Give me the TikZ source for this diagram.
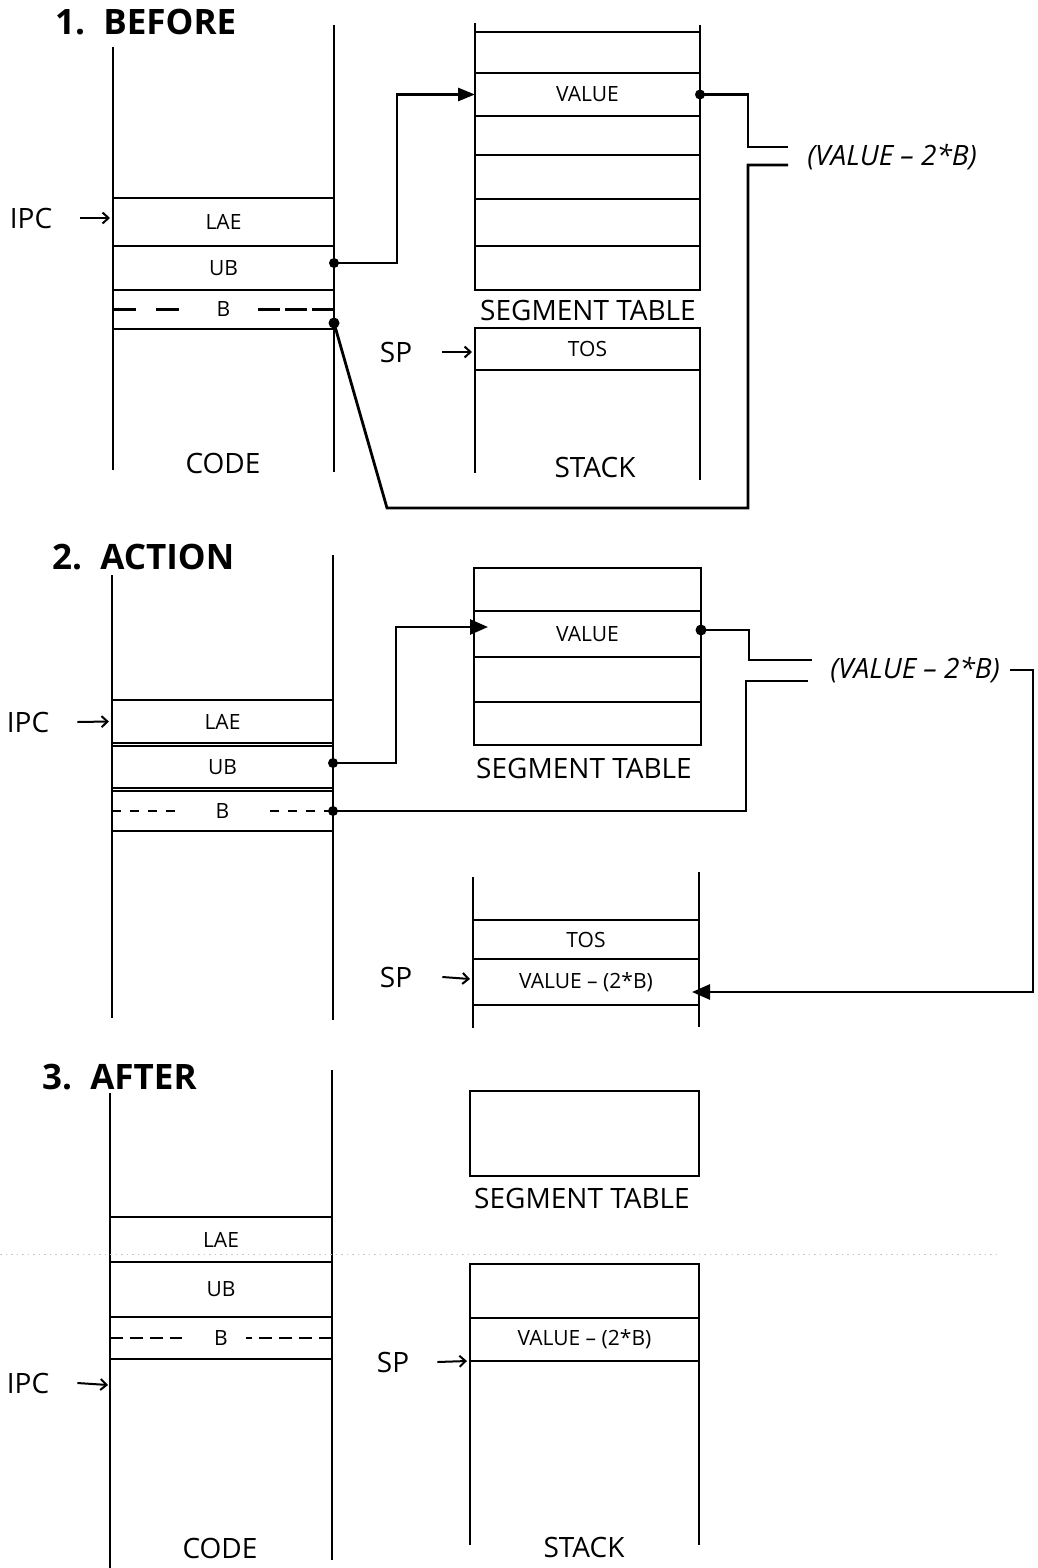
\documentclass[tikz,border=0pt]{standalone}
\usepackage{fontspec}
\setmainfont{Open Sans}
\usetikzlibrary{arrows.meta,calc}
\begin{document}
\begin{tikzpicture}[x=1pt,y=-1pt,
  col/.style={line width=2.3pt},
  cell/.style={draw, line width=2.8pt, rectangle, inner sep=0pt, outer sep=0pt,
    anchor=north west, font=\fontsize{21}{23}\selectfont},
  lbl/.style={inner sep=0pt, font=\fontsize{28}{30}\selectfont},
  exprlbl/.style={inner sep=0pt, font=\fontsize{28}{30}\selectfont\itshape},
  ttl/.style={inner sep=0pt, anchor=west, font=\fontsize{35}{38}\selectfont\bfseries},
  ptr/.style={line width=2pt, -{Straight Barb[length=6pt,width=11pt]}},
  conn/.style={line width=2.8pt},
  tipA/.style={-{Triangle[length=17pt,width=13pt]}},
  tipB/.style={-{Triangle[length=18pt,width=15pt]}},
  dashA/.style={line width=2.8pt, dash pattern=on 23pt off 20pt},
  dashA2/.style={line width=2.8pt, dash pattern=on 22pt off 5pt},
  dashB/.style={line width=2.8pt, dash pattern=on 9pt off 9pt},
  dashC/.style={line width=2.8pt, dash pattern=on 13pt off 7pt},
  scan/.style={gray!45, line width=0.7pt, dash pattern=on 1.5pt off 4pt}
]
\useasboundingbox (0,0) rectangle (1037,1568);

%================ 1. BEFORE ================
\node[ttl] (title1) at (55,22) {1.\ \ BEFORE};
% code column
\draw[col] (113,47) -- (113,470);
\draw[col] (334,25) -- (334,472);
\node[cell, minimum width=221pt, minimum height=48pt] (lae1) at (113,198) {LAE};
\node[cell, minimum width=221pt, minimum height=44pt] (ub1) at (113,246) {UB};
\node[cell, minimum width=221pt, minimum height=39pt] (b1) at (113,290) {B};
\draw[dashA] (b1.west) -- ++(70,0);
\draw[dashA2] (b1.east) -- ++(-78,0);
\node[lbl] (code1) at (223,463) {CODE};
\node[lbl] (ipc1) at (31,218) {IPC};
\draw[ptr] ([xshift=28pt]ipc1.east) -- ([xshift=-3pt,yshift=4pt]lae1.west);
% segment table
\draw[col] (475,23) -- (475,290);
\draw[col] (700,25) -- (700,290);
\node[cell, minimum width=225pt, minimum height=41pt] (st1a) at (475,32) {};
\node[cell, minimum width=225pt, minimum height=43pt] (val1) at (475,73) {VALUE};
\node[cell, minimum width=225pt, minimum height=39pt] (st1c) at (475,116) {};
\node[cell, minimum width=225pt, minimum height=44pt] (st1d) at (475,155) {};
\node[cell, minimum width=225pt, minimum height=47pt] (st1e) at (475,199) {};
\node[cell, minimum width=225pt, minimum height=44pt] (st1f) at (475,246) {};
\node[lbl] (segt1) at (588,310) {SEGMENT TABLE};
% stack
\draw[col] (475,328) -- (475,473);
\draw[col] (700,328) -- (700,480);
\node[cell, minimum width=225pt, minimum height=42pt] (tos1) at (475,328) {TOS};
\node[lbl] (stack1) at (595,467) {STACK};
\node[lbl] (sp1) at (396,352) {SP};
\draw[ptr] ([xshift=30pt]sp1.east) -- ([xshift=-3pt,yshift=-3pt]tos1.west);
% expression
\node[exprlbl] (expr1) at (892,157) {(VALUE – 2*B)};
\coordinate (e1a) at (788,147);
\coordinate (e1b) at (788,165);
% connectors
\coordinate (p1) at ([yshift=5pt]ub1.east);
\fill (p1) circle (5pt);
\draw[conn,tipA] (p1) -| ([xshift=-78pt]val1.west) -- (val1.west);
\fill (val1.east) circle (5pt);
\draw[conn] (val1.east) -- ++(48,0) |- (e1a);
\coordinate (p2) at ([yshift=6pt]b1.south east);
\fill (p2) circle (5.5pt);
\draw[conn] (e1b) -| (748,508) -- (387,508) -- (p2);

%================ 2. ACTION ================
\node[ttl] (title2) at (52,557) {2.\ \ ACTION};
\draw[col] (112,575) -- (112,1018);
\draw[col] (333,555) -- (333,1020);
\node[cell, minimum width=221pt, minimum height=43pt] (lae2) at (112,700) {LAE};
\node[cell, minimum width=221pt, minimum height=42pt] (ub2) at (112,746) {UB};
\node[cell, minimum width=221pt, minimum height=40pt] (b2) at (112,791) {B};
\draw[dashB] (b2.west) -- ++(66,0);
\draw[dashB] (b2.east) -- ++(-70,0);
\node[lbl] (ipc2) at (28,722) {IPC};
\draw[ptr] ([xshift=28pt]ipc2.east) -- ([xshift=-3pt]lae2.west);
% segment table
\node[cell, minimum width=227pt, minimum height=43pt] (st2a) at (474,568) {};
\node[cell, minimum width=227pt, minimum height=46pt] (val2) at (474,611) {VALUE};
\node[cell, minimum width=227pt, minimum height=45pt] (st2c) at (474,657) {};
\node[cell, minimum width=227pt, minimum height=43pt] (st2d) at (474,702) {};
\node[lbl] (segt2) at (584,768) {SEGMENT TABLE};
% stack
\draw[col] (473,877) -- (473,1028);
\draw[col] (699,872) -- (699,1027);
\node[cell, minimum width=226pt, minimum height=39pt] (tos2) at (473,920) {TOS};
\node[cell, minimum width=226pt, minimum height=46pt] (vm2) at (473,959) {VALUE – (2*B)};
\node[lbl] (sp2) at (396,977) {SP};
\draw[ptr] ([xshift=30pt]sp2.east) -- ([xshift=-3pt,yshift=3pt]vm2.west);
% expression
\node[exprlbl] (expr2) at (915,670) {(VALUE – 2*B)};
\coordinate (e2a) at (812,660);
\coordinate (e2b) at (808,681);
% connectors
\coordinate (p3) at ([yshift=4pt]ub2.east);
\fill (p3) circle (5pt);
\draw[conn,tipB] (p3) -| ([xshift=-78pt,yshift=7pt]val2.west) -- ([xshift=14pt,yshift=7pt]val2.west);
\coordinate (p4) at ([yshift=4pt]val2.east);
\fill (p4) circle (5.5pt);
\draw[conn] (p4) -- ++(48,0) |- (e2a);
\fill (b2.east) circle (5pt);
\draw[conn] (e2b) -| ([xshift=413pt]b2.east) -- (b2.east);
\draw[conn,tipB] ([xshift=10pt]expr2.east) -- (1033,670) |- ([xshift=-7pt,yshift=-10pt]vm2.east);

%================ 3. AFTER ================
\node[ttl] (title3) at (42,1077) {3.\ \ AFTER};
\draw[col] (110,1093) -- (110,1568);
\draw[col] (332,1070) -- (332,1560);
\node[cell, minimum width=222pt, minimum height=45pt] (lae3) at (110,1217) {LAE};
\node[cell, minimum width=222pt, minimum height=55pt] (ub3) at (110,1262) {UB};
\node[cell, minimum width=222pt, minimum height=42pt] (b3) at (110,1317) {B};
\draw[dashC] (b3.west) -- ++(72,0);
\draw[dashC] (b3.east) -- ++(-86,0);
\node[lbl] (ipc3) at (28,1383) {IPC};
\coordinate (ipc3t) at (108,1385);
\draw[ptr] ([xshift=28pt]ipc3.east) -- (ipc3t);
\node[lbl] (code3) at (220,1548) {CODE};
% segment table
\node[cell, minimum width=229pt, minimum height=85pt] (st3) at (470,1091) {};
\node[lbl] (segt3) at (582,1198) {SEGMENT TABLE};
% stack
\draw[col] (470,1264) -- (470,1545);
\draw[col] (699,1264) -- (699,1545);
\node[cell, minimum width=229pt, minimum height=54pt] (st3a) at (470,1264) {};
\node[cell, minimum width=229pt, minimum height=43pt] (vm3) at (470,1318) {VALUE – (2*B)};
\node[lbl] (sp3) at (393,1362) {SP};
\draw[ptr] ([xshift=28pt]sp3.east) -- ([xshift=-3pt]vm3.south west);
\node[lbl] (stack3) at (584,1547) {STACK};
% faint scan line
\draw[scan] (0,1254) -- (1000,1254);
\end{tikzpicture}
\end{document}
